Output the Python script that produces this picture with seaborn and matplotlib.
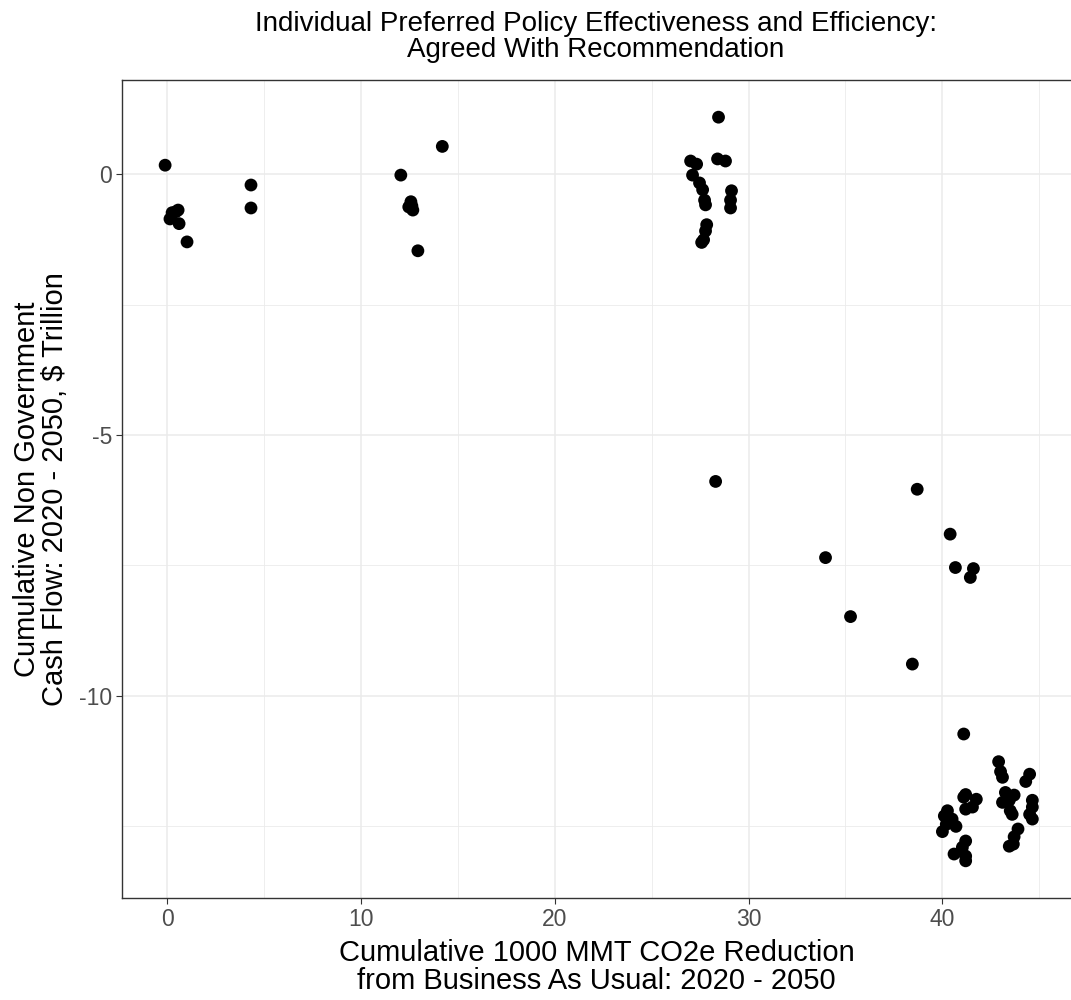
import matplotlib
matplotlib.use("Agg")
import matplotlib.pyplot as plt
import seaborn as sns
import pandas as pd
from matplotlib.ticker import MultipleLocator

# Cumulative 1000 MMT CO2e reduction (x) and cumulative non-government cash flow, $ trillion (y)
co2_reduction = [
    -0.1, 0.46, 0.57, 0.15, 0.26, 0.62, 1.03, 4.33, 4.33,
    14.2, 12.06, 12.63, 12.58, 12.68, 12.47, 12.94,
    27.01, 27.32, 27.11, 27.47, 27.63, 27.73, 27.78, 27.84, 27.78, 27.68, 27.58,
    29.12, 29.07, 29.07, 28.40, 28.81, 28.45, 28.30,
    38.7, 40.4, 33.97, 40.67, 41.6, 41.44, 35.26, 38.45,
    41.1, 42.9, 43.0, 43.1, 44.5, 44.3,
    43.25, 43.7, 43.1, 43.45, 43.5, 43.6,
    44.64, 44.64, 44.5, 44.64,
    43.9, 43.7, 43.45, 43.66,
    41.2, 41.1, 41.75, 41.55, 41.2,
    40.26, 40.1, 40.5, 40.7, 40.2, 40.0,
    41.2, 41.0, 40.6, 41.2, 41.2, 41.03,
]
cash_flow = [
    0.17, -0.72, -0.69, -0.86, -0.74, -0.95, -1.30, -0.21, -0.65,
    0.53, -0.02, -0.61, -0.53, -0.69, -0.63, -1.47,
    0.25, 0.19, -0.02, -0.17, -0.30, -0.50, -0.59, -0.97, -1.09, -1.26, -1.31,
    -0.32, -0.50, -0.65, 0.29, 0.25, 1.09, -5.89,
    -6.04, -6.9, -7.35, -7.54, -7.56, -7.73, -8.48, -9.39,
    -10.73, -11.26, -11.45, -11.56, -11.5, -11.64,
    -11.85, -11.9, -12.04, -12.0, -12.2, -12.27,
    -12.0, -12.13, -12.27, -12.36,
    -12.55, -12.7, -12.88, -12.84,
    -11.89, -11.94, -11.98, -12.13, -12.17,
    -12.2, -12.3, -12.36, -12.5, -12.46, -12.6,
    -12.78, -12.97, -13.03, -13.07, -13.16, -12.9,
]

title = "Individual Preferred Policy Effectiveness and Efficiency:\nAgreed With Recommendation"
xlabel = "Cumulative 1000 MMT CO2e Reduction\nfrom Business As Usual: 2020 - 2050"
ylabel = "Cumulative Non Government\nCash Flow: 2020 - 2050, $ Trillion"

df = pd.DataFrame({"x": co2_reduction, "y": cash_flow})

sns.set_theme(style="white")
plt.rcParams["font.family"] = ["Liberation Sans", "DejaVu Sans"]
plt.rcParams["axes.unicode_minus"] = False

fig = plt.figure(figsize=(10.71, 10.0), dpi=100)
ax = fig.add_axes([0.114, 0.102, 0.889, 0.818])

sns.scatterplot(data=df, x="x", y="y", color="black", s=85, edgecolor="none",
                linewidth=0, ax=ax, zorder=3)

ax.set_xlim(-2.32, 46.8)
yr = max(cash_flow) - min(cash_flow)
ax.set_ylim(min(cash_flow) - 0.05 * yr, max(cash_flow) + 0.05 * yr)

ax.xaxis.set_major_locator(MultipleLocator(10))
ax.xaxis.set_minor_locator(MultipleLocator(5))
ax.yaxis.set_major_locator(MultipleLocator(5))
ax.yaxis.set_minor_locator(MultipleLocator(2.5))

ax.grid(which="major", color="#EBEBEB", linewidth=1.1, zorder=0)
ax.grid(which="minor", color="#EBEBEB", linewidth=0.6, zorder=0)
ax.set_axisbelow(True)

for sp in ax.spines.values():
    sp.set_visible(True)
    sp.set_color("#333333")
    sp.set_linewidth(1.0)

ax.tick_params(axis="both", which="major", direction="out", length=4, width=0.8,
               color="#333333", labelsize=16.5, labelcolor="#4D4D4D", pad=3,
               bottom=True, left=True)
ax.tick_params(axis="both", which="minor", length=0)

ax.set_xlabel(xlabel, fontsize=21, color="black", va="center", ha="center",
              linespacing=1.0)
ax.xaxis.set_label_coords(0.5 * 0.886 / 0.889, -0.084)
ax.set_ylabel(ylabel, fontsize=21, color="black", va="center", ha="center",
              linespacing=1.0)
ax.yaxis.set_label_coords(-0.0854, 0.5)

fig.text(0.5565, 1 - 37 / 1000, title, fontsize=20, color="black",
         ha="center", va="center", linespacing=1.0)

fig.savefig("out.png", dpi=100)
